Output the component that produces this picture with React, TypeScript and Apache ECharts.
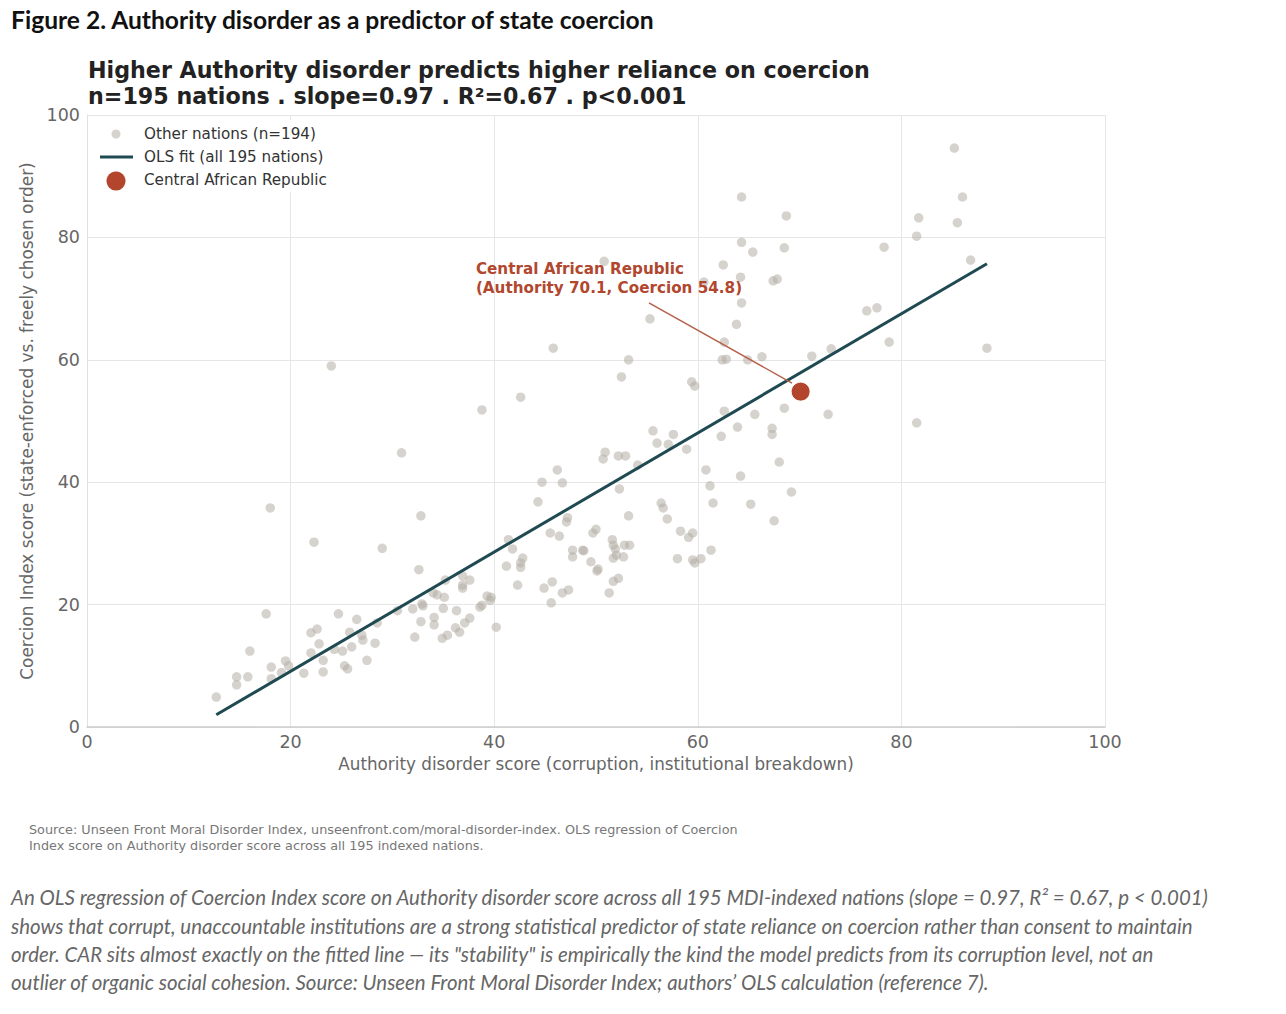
import React, { useEffect, useRef } from "react";
import * as echarts from "echarts";

const authorityScores = [
  12.7, 14.7, 14.7, 15.8, 16.0, 17.6, 18.0, 18.1, 18.1, 19.1, 19.5, 19.8, 21.3, 22.0, 22.0, 22.3, 22.6, 22.8, 23.2, 23.2,
  24.0, 24.3, 24.7, 25.1, 25.3, 25.6, 25.8, 26.0, 26.5, 27.0, 27.1, 27.5, 28.3, 28.5, 29.0, 30.5, 30.9, 32.0, 32.2, 32.6,
  32.8, 32.8, 32.9, 33.0, 34.1, 34.1, 34.0, 34.4, 35.0, 34.9, 35.4, 35.1, 35.2, 36.3, 36.2, 36.6, 36.9, 36.9, 36.9, 37.6,
  37.6, 37.1, 38.8, 39.3, 39.7, 39.6, 38.8, 38.6, 40.2, 41.4, 41.8, 42.8, 42.6, 42.6, 41.2, 42.3, 42.6, 44.7, 46.2, 46.7,
  44.3, 47.2, 47.1, 45.5, 46.4, 47.7, 48.7, 47.7, 49.5, 50.2, 50.1, 44.9, 45.7, 46.7, 47.3, 45.6, 49.7, 50.0, 51.3, 51.7,
  52.2, 51.6, 51.7, 51.9, 51.7, 52.0, 52.7, 52.8, 53.3, 53.2, 52.3, 50.7, 50.9, 52.2, 52.9, 54.1, 45.8, 48.8, 59.4, 59.7,
  62.6, 65.6, 68.5, 72.8, 63.9, 62.3, 67.3, 67.3, 55.6, 57.6, 56.0, 57.1, 58.9, 60.8, 64.2, 68.0, 61.2, 61.5, 65.2, 69.2,
  67.5, 56.4, 56.6, 57.0, 58.3, 59.1, 59.5, 58.0, 59.5, 59.7, 60.3, 61.3, 64.3, 68.7, 64.3, 65.4, 68.5, 50.8, 62.5, 64.2,
  67.4, 67.8, 60.6, 64.3, 55.3, 63.8, 62.6, 53.2, 62.4, 62.8, 64.9, 66.3, 71.2, 73.1, 52.5, 85.2, 86.0, 81.7, 85.5, 81.5,
  78.3, 86.8, 76.6, 77.6, 78.8, 88.4, 81.5,
];

const coercionScores = [
  4.9, 8.2, 6.9, 8.2, 12.4, 18.5, 35.8, 9.8, 7.9, 8.9, 10.8, 10.0, 8.8, 15.4, 12.1, 30.2, 16.0, 13.6, 10.9, 9.0,
  59.0, 12.7, 18.5, 12.4, 10.0, 9.5, 15.5, 13.1, 17.6, 15.0, 14.2, 10.9, 13.7, 17.0, 29.2, 19.0, 44.8, 19.3, 14.7, 25.7,
  34.5, 17.2, 20.1, 19.8, 17.9, 16.7, 21.9, 21.6, 19.4, 14.5, 15.0, 21.2, 24.0, 19.0, 16.2, 15.5, 24.7, 23.2, 22.7, 24.0,
  17.8, 17.0, 51.8, 21.4, 21.2, 20.7, 19.9, 19.6, 16.3, 30.6, 29.1, 27.6, 26.8, 26.1, 26.3, 23.2, 53.9, 40.0, 42.0, 39.9,
  36.8, 34.2, 33.5, 31.7, 31.2, 28.9, 28.9, 27.8, 27.0, 25.8, 25.5, 22.7, 23.7, 21.9, 22.4, 20.3, 31.7, 32.3, 21.9, 23.8,
  24.3, 30.6, 29.7, 29.1, 27.6, 28.1, 27.8, 29.7, 29.7, 34.5, 38.9, 43.8, 44.9, 44.3, 44.3, 42.8, 61.9, 28.8, 56.4, 55.7,
  51.6, 51.1, 52.1, 51.1, 49.0, 47.5, 48.8, 47.8, 48.4, 47.8, 46.4, 46.2, 45.4, 42.0, 41.0, 43.3, 39.4, 36.6, 36.4, 38.4,
  33.7, 36.6, 35.8, 34.0, 32.0, 31.0, 31.7, 27.5, 27.3, 26.8, 27.5, 28.9, 86.6, 83.5, 79.2, 77.6, 78.3, 76.1, 75.5, 73.5,
  72.9, 73.2, 72.7, 69.3, 66.7, 65.8, 62.9, 60.0, 60.0, 60.1, 60.0, 60.5, 60.6, 61.8, 57.2, 94.6, 86.6, 83.2, 82.4, 80.2,
  78.4, 76.3, 68.0, 68.5, 62.9, 61.9, 49.7,
];

const carPoint = [70.1, 54.8];
const fitLine = [
  [12.7, 2.0],
  [88.4, 75.7],
];
const annotationLeader = [
  [55.2, 69.3],
  [69.25, 56.2],
];
const annotationAnchor = [38.2, 73.3];
const axisTicks = { min: 0, max: 100, interval: 20 };

const figureTitle = "Figure 2. Authority disorder as a predictor of state coercion";
const chartTitle =
  "Higher Authority disorder predicts higher reliance on coercion\nn=195 nations . slope=0.97 . R²=0.67 . p<0.001";
const xAxisName = "Authority disorder score (corruption, institutional breakdown)";
const yAxisName = "Coercion Index score (state-enforced vs. freely chosen order)";
const legendLabels = ["Other nations (n=194)", "OLS fit (all 195 nations)", "Central African Republic"];
const annotationText = "Central African Republic\n(Authority 70.1, Coercion 54.8)";
const sourceText =
  "Source: Unseen Front Moral Disorder Index, unseenfront.com/moral-disorder-index. OLS regression of Coercion\nIndex score on Authority disorder score across all 195 indexed nations.";
const captionText = [
  "An OLS regression of Coercion Index score on Authority disorder score across all 195 MDI-indexed nations (slope = 0.97, R² = 0.67, p < 0.001)",
  "shows that corrupt, unaccountable institutions are a strong statistical predictor of state reliance on coercion rather than consent to maintain",
  "order. CAR sits almost exactly on the fitted line — its \"stability\" is empirically the kind the model predicts from its corruption level, not an",
  "outlier of organic social cohesion. Source: Unseen Front Moral Disorder Index; authors’ OLS calculation (reference 7).",
].join("\n");

const FONT = "DejaVu Sans";
const GREY_DOT = "rgba(180,174,165,0.55)";
const FIT_COLOR = "#1f4a52";
const CAR_COLOR = "#b3452c";

export default function App() {
  const ref = useRef<HTMLDivElement>(null);

  useEffect(() => {
    document.body.style.margin = "0";
    if (!ref.current) return;
    const chart = echarts.init(ref.current, undefined, { renderer: "svg" });
    const others = authorityScores.map((a, i) => [a, coercionScores[i]]);

    chart.setOption({
      animation: false,
      backgroundColor: "#ffffff",
      title: [
        {
          text: figureTitle,
          left: 11,
          top: 5,
          padding: 0,
          textStyle: { fontFamily: "Lato", fontWeight: "bold", fontSize: 24.6, color: "#111", lineHeight: 28 },
        },
        {
          text: chartTitle,
          left: 88,
          top: 57,
          padding: 0,
          textStyle: { fontFamily: FONT, fontWeight: "bold", fontSize: 22.2, color: "#222", lineHeight: 26 },
        },
        {
          text: sourceText,
          left: 29,
          top: 821,
          padding: 0,
          textStyle: { fontFamily: FONT, fontWeight: "normal", fontSize: 12.8, color: "#777", lineHeight: 16 },
        },
        {
          text: captionText,
          left: 11,
          top: 883,
          padding: 0,
          textStyle: {
            fontFamily: "Lato",
            fontStyle: "italic",
            fontWeight: "normal",
            fontSize: 20.45,
            color: "#666",
            lineHeight: 28.4,
          },
        },
      ],
      grid: { left: 87, right: 181, top: 115, bottom: 287, containLabel: false },
      xAxis: {
        type: "value",
        ...axisTicks,
        name: xAxisName,
        nameLocation: "middle",
        nameGap: 28,
        nameTextStyle: { fontFamily: FONT, fontSize: 16.8, color: "#666" },
        axisLine: { show: true, lineStyle: { color: "#cccccc", width: 1.5 } },
        axisTick: { show: false },
        axisLabel: { fontFamily: FONT, fontSize: 17.5, color: "#666", margin: 6 },
        splitLine: { show: true, lineStyle: { color: "#e6e6e6", width: 1 } },
      },
      yAxis: {
        type: "value",
        ...axisTicks,
        name: yAxisName,
        nameLocation: "middle",
        nameGap: 44,
        nameTextStyle: { fontFamily: FONT, fontSize: 16.9, color: "#666" },
        axisLine: { show: true, lineStyle: { color: "#e0e0e0", width: 1 } },
        axisTick: { show: false },
        axisLabel: { fontFamily: FONT, fontSize: 17.5, color: "#666", margin: 7 },
        splitLine: { show: true, lineStyle: { color: "#e6e6e6", width: 1 } },
      },
      series: [
        {
          name: legendLabels[0],
          type: "scatter",
          data: others,
          symbolSize: 9.5,
          itemStyle: { color: GREY_DOT, opacity: 1 },
          z: 2,
          silent: true,
        },
        {
          name: legendLabels[1],
          type: "line",
          data: fitLine,
          showSymbol: false,
          symbol: "none",
          lineStyle: { color: FIT_COLOR, width: 3 },
          z: 3,
          silent: true,
        },
        {
          name: "leader",
          type: "line",
          data: annotationLeader,
          showSymbol: false,
          symbol: "none",
          lineStyle: { color: "#b5614a", width: 1.5 },
          z: 4,
          silent: true,
        },
        {
          name: "annotation",
          type: "scatter",
          data: [annotationAnchor],
          symbolSize: 0,
          silent: true,
          z: 6,
          itemStyle: { opacity: 1 },
          label: {
            show: true,
            position: [0, 0],
            align: "left",
            verticalAlign: "middle",
            formatter: annotationText,
            fontFamily: FONT,
            fontWeight: "bold",
            fontSize: 15.2,
            lineHeight: 19,
            color: "#b0472e",
            opacity: 1,
          },
        },
        {
          name: legendLabels[2],
          type: "scatter",
          data: [carPoint],
          symbolSize: 19,
          itemStyle: { color: CAR_COLOR, borderColor: "#ffffff", borderWidth: 1, opacity: 1 },
          z: 5,
          silent: true,
        },
      ],
      graphic: [
        { type: "rect", left: 92, top: 120, shape: { width: 250, height: 72 }, style: { fill: "rgba(255,255,255,0.8)" }, z: 10 },
        { type: "circle", shape: { cx: 116, cy: 134, r: 4.5 }, style: { fill: GREY_DOT }, z: 11 },
        { type: "line", shape: { x1: 100, y1: 157, x2: 133, y2: 157 }, style: { stroke: FIT_COLOR, lineWidth: 3 }, z: 11 },
        { type: "circle", shape: { cx: 116, cy: 181, r: 9.5 }, style: { fill: CAR_COLOR }, z: 11 },
        {
          type: "text",
          x: 144,
          y: 134,
          style: { text: legendLabels[0], font: `15.2px "${FONT}"`, fill: "#333", verticalAlign: "middle" },
          z: 11,
        },
        {
          type: "text",
          x: 144,
          y: 157,
          style: { text: legendLabels[1], font: `15.2px "${FONT}"`, fill: "#333", verticalAlign: "middle" },
          z: 11,
        },
        {
          type: "text",
          x: 144,
          y: 180,
          style: { text: legendLabels[2], font: `15.2px "${FONT}"`, fill: "#333", verticalAlign: "middle" },
          z: 11,
        },
      ],
    });

    return () => chart.dispose();
  }, []);

  return <div ref={ref} style={{ width: 1286, height: 1014 }} />;
}
